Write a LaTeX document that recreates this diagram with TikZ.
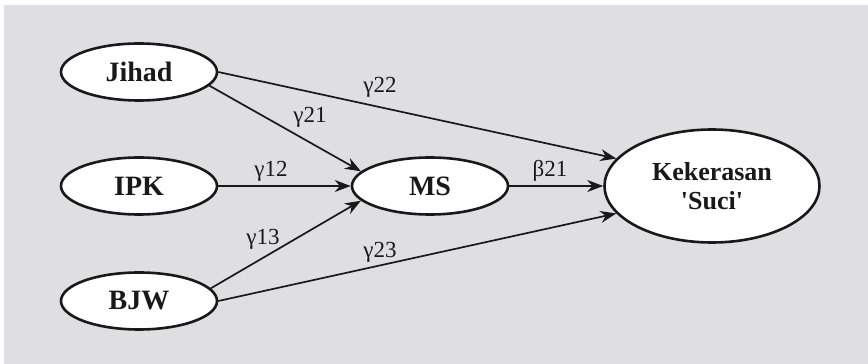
\documentclass[tikz,border=0pt]{standalone}
\usepackage{fontspec}
\setmainfont{Liberation Serif}
\usetikzlibrary{arrows.meta,shapes.geometric}
\definecolor{panel}{RGB}{223,223,227}
\definecolor{ink}{RGB}{25,25,25}

\begin{document}
\begin{tikzpicture}[x=1pt,y=1pt,
  latent/.style={ellipse,draw=ink,line width=2.6pt,fill=white,inner sep=0pt,
    minimum width=156pt,minimum height=57pt,text=ink,
    font=\fontsize{28}{30}\selectfont\bfseries},
  link/.style={-{Stealth[length=16pt,width=12pt]},draw=ink,line width=1.7pt},
  coef/.style={anchor=base,inner sep=0pt,text=ink,font=\fontsize{23}{23}\selectfont}]
\useasboundingbox (0,0) rectangle (868,364);
\fill[panel] (4,0) rectangle (868,359);
% exogenous
\node[latent] (jihad) at (139,292) {Jihad};
\node[latent] (ipk) at (139,178) {IPK};
\node[latent] (bjw) at (139,63) {BJW};
% mediator and outcome
\node[latent] (ms) at (430,178) {MS};
\node[latent,minimum width=215pt,minimum height=113pt,align=center,
  font=\fontsize{26}{29}\selectfont\bfseries] (kek) at (712,178)
  {Kekerasan\\\textquotesingle Suci\textquotesingle};
% paths
\draw[link] (jihad.-11) -- (ms.168);
\draw[link] (jihad.east) -- (kek.164);
\draw[link] (ipk.east) -- (ms.west);
\draw[link] (ms.east) -- (kek.west);
\draw[link] (bjw.10) -- (ms.192);
\draw[link] (bjw.east) -- (kek.196);
% coefficients
\node[coef] (g22) at (380,271) {γ22};
\node[coef] (g21) at (310,241) {γ21};
\node[coef] (g12) at (271,187) {γ12};
\node[coef] (b21) at (550,187) {β21};
\node[coef] (g13) at (263,119) {γ13};
\node[coef] (g23) at (380,106) {γ23};
\end{tikzpicture}
\end{document}
